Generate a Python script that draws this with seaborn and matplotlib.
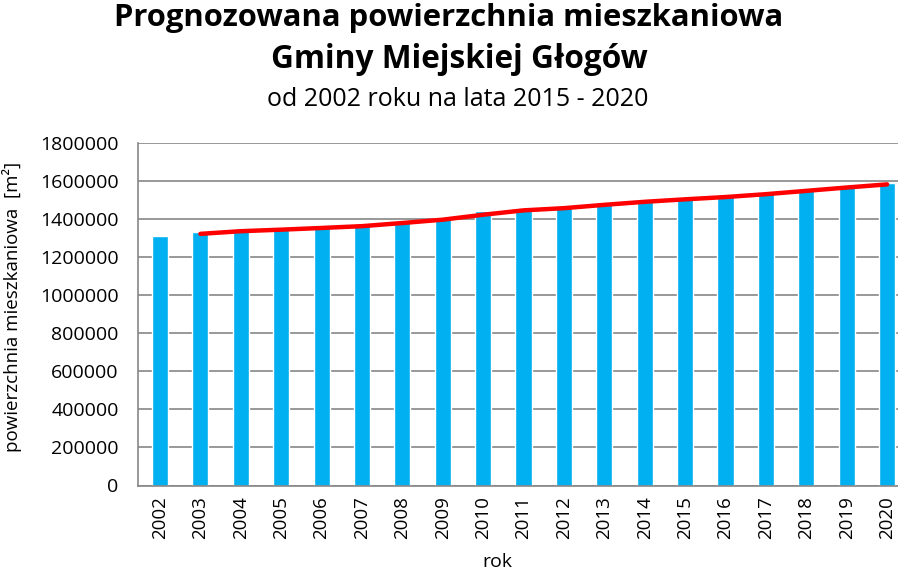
import matplotlib
matplotlib.use("Agg")
import matplotlib.pyplot as plt
import seaborn as sns
import pandas as pd
import numpy as np

years = ["2002", "2003", "2004", "2005", "2006", "2007", "2008", "2009", "2010", "2011",
         "2012", "2013", "2014", "2015", "2016", "2017", "2018", "2019", "2020"]
area = [1312000, 1333000, 1340000, 1349000, 1358000, 1368000, 1391000, 1403000, 1443000, 1449000,
        1466000, 1484000, 1498000, 1510000, 1522000, 1540000, 1557000, 1575000, 1590000]

title1 = "Prognozowana powierzchnia mieszkaniowa"
title2 = "Gminy Miejskiej Głogów"
subtitle = "od 2002 roku na lata 2015 - 2020"
ylabel = "powierzchnia mieszkaniowa  [m²]"
xlabel = "rok"

sns.set_theme(style="white")
plt.rcParams['font.family'] = ['Open Sans', 'DejaVu Sans']
plt.rcParams['text.color'] = 'black'
plt.rcParams['xtick.color'] = 'black'
plt.rcParams['ytick.color'] = 'black'

df = pd.DataFrame({"rok": years, "pow": area})
# Excel-style 2-period moving average trendline
df["trend"] = df["pow"].rolling(2).mean()

W, H = 898, 570
fig = plt.figure(figsize=(W / 100, H / 100), dpi=100)
ax_left, ax_right = 138 / W, 1.0
ax_top, ax_bottom = 1 - 143 / H, 1 - 485.5 / H
ax = fig.add_axes([ax_left, ax_bottom, ax_right - ax_left, ax_top - ax_bottom])

sns.barplot(data=df, x="rok", y="pow", color="#00B0F0", width=0.4, saturation=1, ax=ax, zorder=2)
sns.lineplot(x=np.arange(len(years)), y=df["trend"], color="#FF0000", linewidth=3.2, ax=ax, zorder=3)

ax.set_xlim(-0.545, 18.27)
ax.set_ylim(0, 1800000)
ax.set_yticks(np.arange(0, 1800001, 200000))
ax.set_yticklabels([f"{v}" for v in range(0, 1800001, 200000)], fontsize=14)
ax.set_xticks(np.arange(len(years)))
ax.set_xticklabels(years, rotation=90, fontsize=13.5)
ax.tick_params(axis="y", length=0, pad=14, colors="black")
ax.tick_params(axis="x", length=0, pad=8, colors="black")
ax.yaxis.grid(True, color="#868686", linewidth=1.2, zorder=0)
ax.set_axisbelow(True)
for s in ["top", "right"]:
    ax.spines[s].set_visible(False)
for s in ["left", "bottom"]:
    ax.spines[s].set_color("#868686")
    ax.spines[s].set_linewidth(1.2)

ax.set_xlabel("")
ax.set_ylabel("")
fig.text(12 / W, 1 - 307 / H, ylabel, rotation=90, ha="center", va="center", fontsize=13.5)
fig.text(497 / W, 1 - 562 / H, xlabel, ha="center", va="center", fontsize=14)

fig.text(449 / W, 1 - 18 / H, title1, ha="center", va="center", fontsize=22.3, fontweight="bold")
fig.text(459 / W, 1 - 60 / H, title2, ha="center", va="center", fontsize=22.8, fontweight="bold")
fig.text(458 / W, 1 - 100 / H, subtitle, ha="center", va="center", fontsize=18)

fig.savefig("out.png", dpi=100)
